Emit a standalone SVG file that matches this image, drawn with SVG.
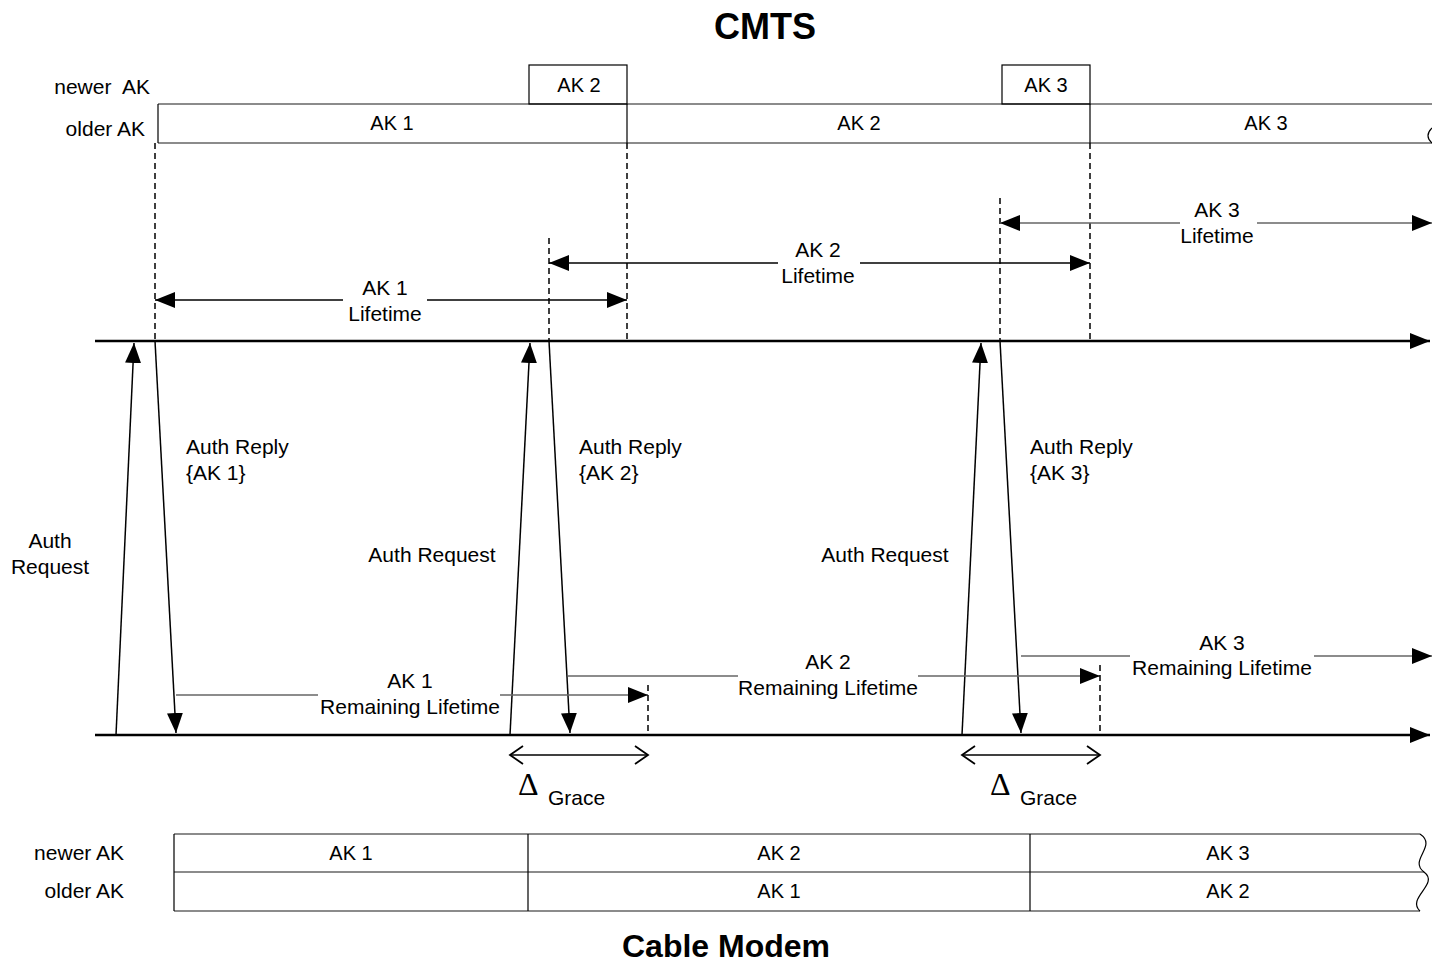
<svg xmlns="http://www.w3.org/2000/svg" width="1432" height="965" viewBox="0 0 1432 965">
<defs>
<style>
text{font-family:"Liberation Sans",Arial,sans-serif;font-size:21px;fill:#000}
.c{text-anchor:middle}
.e{text-anchor:end}
.t{font-weight:bold}
.ln{stroke:#000;stroke-width:1.5;fill:none}
.g{stroke:#666;stroke-width:1.5;fill:none}
.tl{stroke:#000;stroke-width:2.5;fill:none}
.d{stroke:#000;stroke-width:1.5;stroke-dasharray:6,4;fill:none}
.tb{stroke:#666;stroke-width:1.5;fill:none}
.bx{stroke:#000;stroke-width:1.2;fill:none}
.dl{font-family:"Liberation Serif","Times New Roman",serif;font-size:32px}
</style>
<marker id="ah" markerUnits="userSpaceOnUse" markerWidth="22" markerHeight="16" refX="20" refY="8" orient="auto-start-reverse" viewBox="0 0 22 16">
<path d="M0,0 L20,8 L0,16 Z" fill="#000"/>
</marker>
<marker id="oh" markerUnits="userSpaceOnUse" markerWidth="16" markerHeight="20" refX="14" refY="10" orient="auto-start-reverse" viewBox="0 0 16 20">
<path d="M1,1 L14,10 L1,19" fill="none" stroke="#000" stroke-width="1.8"/>
</marker>
</defs>
<rect width="1432" height="965" fill="#fff"/>

<g id="titles">
<text class="c t" x="765" y="39" style="font-size:36px">CMTS</text>
<text class="c t" x="726" y="957" style="font-size:32px">Cable Modem</text>
</g>

<g id="cmts-table">
<text class="e" x="150" y="94" xml:space="preserve">newer  AK</text>
<text class="e" x="145" y="136">older AK</text>
<path class="tb" d="M158,104 H1432 M158,143 H1432"/>
<path class="bx" d="M158,104 V143"/>
<rect class="bx" x="529" y="65" width="98" height="39"/>
<rect class="bx" x="1002" y="65" width="88" height="39"/>
<path class="bx" d="M627,104 V143 M1090,104 V143"/>
<path class="bx" d="M1432,128 Q1424,136 1432,143"/>
<text class="c" x="579" y="92" style="font-size:20px">AK 2</text>
<text class="c" x="1046" y="92" style="font-size:20px">AK 3</text>
<text class="c" x="392" y="130" style="font-size:20px">AK 1</text>
<text class="c" x="859" y="130" style="font-size:20px">AK 2</text>
<text class="c" x="1266" y="130" style="font-size:20px">AK 3</text>
</g>

<g id="connectors">
<path class="d" d="M155,143 V340 M627,143 V340 M1090,143 V340 M549,238 V340 M1000,198 V340"/>
<path class="tl" d="M95,341 H1430" marker-end="url(#ah)"/>
<path class="tl" d="M95,735 H1430" marker-end="url(#ah)"/>
<path class="ln" d="M343,300 H155" marker-end="url(#ah)"/>
<path class="ln" d="M427,300 H627" marker-end="url(#ah)"/>
<path class="ln" d="M778,263 H549" marker-end="url(#ah)"/>
<path class="ln" d="M860,263 H1090" marker-end="url(#ah)"/>
<path class="g" d="M1180,223 H1000" marker-end="url(#ah)"/>
<path class="g" d="M1257,223 H1432" marker-end="url(#ah)"/>
<path class="ln" d="M116,735 L134,343" marker-end="url(#ah)"/>
<path class="ln" d="M155,341 L176,733" marker-end="url(#ah)"/>
<path class="ln" d="M510,735 L530,343" marker-end="url(#ah)"/>
<path class="ln" d="M549,341 L570,733" marker-end="url(#ah)"/>
<path class="ln" d="M962,735 L981,343" marker-end="url(#ah)"/>
<path class="ln" d="M1000,341 L1021,733" marker-end="url(#ah)"/>
<path class="g" d="M176,695 H318"/>
<path class="g" d="M500,695 H648" marker-end="url(#ah)"/>
<path class="g" d="M568,676 H738"/>
<path class="g" d="M918,676 H1100" marker-end="url(#ah)"/>
<path class="g" d="M1021,656 H1130"/>
<path class="g" d="M1314,656 H1432" marker-end="url(#ah)"/>
<path class="d" d="M648,685 V735 M1100,665 V735"/>
<path class="ln" d="M510,755 H648" marker-start="url(#oh)" marker-end="url(#oh)"/>
<path class="ln" d="M962,755 H1100" marker-start="url(#oh)" marker-end="url(#oh)"/>
</g>

<g id="labels">
<text class="c" x="385" y="295">AK 1</text>
<text class="c" x="385" y="321">Lifetime</text>
<text class="c" x="818" y="257">AK 2</text>
<text class="c" x="818" y="283">Lifetime</text>
<text class="c" x="1217" y="217">AK 3</text>
<text class="c" x="1217" y="243">Lifetime</text>
<text x="186" y="454">Auth Reply</text>
<text x="186" y="480">{AK 1}</text>
<text x="579" y="454">Auth Reply</text>
<text x="579" y="480">{AK 2}</text>
<text x="1030" y="454">Auth Reply</text>
<text x="1030" y="480">{AK 3}</text>
<text class="c" x="50" y="548">Auth</text>
<text class="c" x="50" y="574">Request</text>
<text class="c" x="432" y="562">Auth Request</text>
<text class="c" x="885" y="562">Auth Request</text>
<text class="c" x="410" y="688">AK 1</text>
<text class="c" x="410" y="714">Remaining Lifetime</text>
<text class="c" x="828" y="669">AK 2</text>
<text class="c" x="828" y="695">Remaining Lifetime</text>
<text class="c" x="1222" y="650">AK 3</text>
<text class="c" x="1222" y="675">Remaining Lifetime</text>
<text class="dl" x="518" y="795">Δ</text>
<text x="548" y="805">Grace</text>
<text class="dl" x="990" y="795">Δ</text>
<text x="1020" y="805">Grace</text>
</g>

<g id="modem-table">
<text class="e" x="124" y="860">newer AK</text>
<text class="e" x="124" y="898">older AK</text>
<path class="tb" d="M174,834 H1420 M174,872 H1424 M174,911 H1420"/>
<path class="bx" d="M174,834 V911 M528,834 V911 M1030,834 V911"/>
<path class="bx" d="M1420,834 C1438,846 1408,860 1424,872 C1440,884 1406,898 1420,911"/>
<text class="c" x="351" y="860" style="font-size:20px">AK 1</text>
<text class="c" x="779" y="860" style="font-size:20px">AK 2</text>
<text class="c" x="1228" y="860" style="font-size:20px">AK 3</text>
<text class="c" x="779" y="898" style="font-size:20px">AK 1</text>
<text class="c" x="1228" y="898" style="font-size:20px">AK 2</text>
</g>
</svg>
